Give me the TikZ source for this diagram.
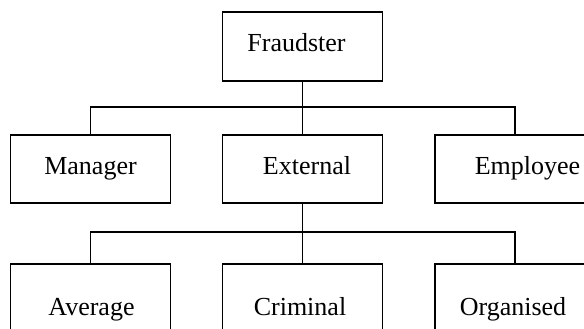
\documentclass[tikz,border=0pt]{standalone}
\usepackage{fontspec}
\setmainfont{Liberation Serif}
\begin{document}
\begin{tikzpicture}[x=1pt,y=-1pt,
  box/.style={draw=black,line width=1.6pt,rectangle,inner sep=0pt,
    minimum width=160pt,minimum height=68pt,
    font=\fontsize{26}{30}\selectfont,text height=18pt,text depth=7pt},
  lowbox/.style={box,text height=34pt,text depth=0pt},
  conn/.style={draw=black,line width=1.3pt}]
\useasboundingbox (0,0) rectangle (584,329);
\clip (0,0) rectangle (584,329);
\fill[white] (0,0) rectangle (584,329);
\node[box,minimum height=69pt] (fr) at (302.5,46.5) {\hspace*{-12pt}Fraudster};
\node[box] (ma) at (90.5,169) {Manager};
\node[box] (ex) at (302.5,169) {\hspace*{9pt}External};
\node[box] (em) at (515,169) {\hspace*{25pt}Employee};
\node[lowbox] (av) at (90.5,298) {\hspace*{2pt}Average};
\node[lowbox] (cr) at (302.5,298) {\hspace*{-5pt}Criminal};
\node[lowbox] (or) at (515,298) {\hspace*{-4pt}Organised};
\coordinate (bus1) at (0,107);
\coordinate (bus2) at (0,232);
\draw[conn] (fr.south) -- (ex.north);
\draw[conn] (ma.north) |- (bus1 -| fr.south) -| (em.north);
\draw[conn] (ex.south) -- (cr.north);
\draw[conn] (av.north) |- (bus2 -| ex.south) -| (or.north);
\end{tikzpicture}
\end{document}
